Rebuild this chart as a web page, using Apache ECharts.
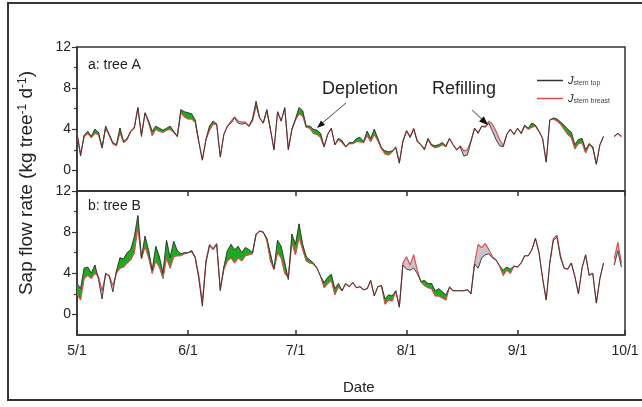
<!DOCTYPE html>
<html>
<head>
<meta charset="utf-8">
<script src="https://cdn.jsdelivr.net/npm/echarts@6/dist/echarts.min.js"></script>
<style>
  html, body { margin: 0; padding: 0; background: #fff; }
  #chart { width: 642px; height: 407px; }
</style>
</head>
<body>
<div id="chart"></div>
<script>
// days counted from 5/1 (index 0)
var monthTicks = [0, 31, 61, 92, 123, 153];
var monthLabels = ['5/1', '6/1', '7/1', '8/1', '9/1', '10/1'];
var yTicks = [0, 4, 8, 12];

// tree A
var topA = [3.6,1.4,3.4,3.8,3.3,4.0,3.7,2.2,4.3,3.5, 2.7,2.5,4.1,2.8,3.1,3.8,4.1,6.1,3.3,5.6,
  4.8,3.8,4.3,4.1,3.9,4.1,4.3,3.8,3.3,5.9, 5.7,5.6,5.5,4.9,2.8,1.0,3.0,4.3,4.8,4.5,
  1.3,3.5,4.3,4.6,5.1,4.6,4.5,4.6,4.3,5.0, 6.7,5.1,4.6,5.9,4.0,2.0,5.7,4.8,6.1,2.0,
  4.0,5.0,6.1,5.8,4.3,4.3,4.0,3.9,3.6,2.3, 3.5,4.1,2.5,3.1,2.9,2.3,2.7,2.7,3.1,3.2,
  2.8,3.8,3.1,4.0,3.1,2.2,1.9,1.8,1.9,2.2, 0.7,2.8,3.8,3.2,4.0,2.8,2.5,2.0,3.1,2.5,
  2.4,2.5,2.7,2.4,3.1,2.5,2.0,2.3,1.4,1.5, 2.8,4.1,3.6,4.3,4.2,4.6,3.8,3.0,2.4,2.3,
  3.5,4.0,3.5,4.1,3.6,4.4,4.1,4.6,4.4,3.8, 3.1,0.8,4.9,5.1,5.0,4.7,4.4,4.0,3.7,2.5,
  3.0,3.1,2.0,2.6,2.3,0.6,2.5,3.3,null,null, 3.3,3.6,3.3];
var breastA = [3.6,1.6,3.3,3.6,3.2,3.6,3.5,2.2,4.1,3.4, 2.6,2.4,3.7,2.7,3.0,3.8,4.2,6.1,3.5,5.6,
  4.6,3.4,4.0,3.8,3.7,3.9,4.0,3.7,3.3,5.6, 5.2,5.0,5.0,4.7,2.8,1.0,3.0,3.9,4.5,4.5,
  1.3,3.5,4.3,4.8,5.2,4.8,4.7,4.7,4.3,4.8, 6.3,5.1,4.6,5.8,4.0,2.0,5.7,4.8,6.1,2.1,
  4.0,4.9,5.5,5.3,4.2,4.1,3.6,3.5,3.2,2.3, 3.5,4.1,2.5,3.0,2.7,2.3,2.6,2.6,2.8,2.8,
  2.7,3.4,2.8,3.5,2.9,2.1,1.6,1.5,1.8,2.3, 0.8,2.9,3.9,3.3,4.1,2.9,2.5,2.1,3.0,2.4,
  2.2,2.3,2.5,2.3,3.1,2.5,2.0,2.4,1.9,2.0, 2.9,4.1,3.7,4.3,4.3,4.8,4.5,3.8,3.0,2.4,
  3.5,4.0,3.5,4.1,3.6,4.3,4.0,4.2,4.3,3.8, 3.1,0.8,4.9,5.0,4.8,4.5,4.0,3.5,3.2,2.1,
  2.6,2.7,1.7,2.5,2.2,0.6,2.5,3.3,null,null, 3.3,3.6,3.3];

// tree B
var topB = [3.0,2.5,4.5,4.6,4.0,4.8,3.4,1.5,4.0,3.7, 2.2,4.2,5.5,5.4,6.0,6.3,7.5,9.6,5.5,7.6,
  6.2,4.3,6.6,5.6,4.0,7.2,5.5,7.1,6.2,5.9, 6.0,6.0,6.2,5.5,3.5,0.8,5.0,6.7,6.3,6.8,
  2.3,4.6,6.2,6.8,6.3,6.6,6.0,6.5,6.3,6.0, 7.8,8.1,8.0,7.4,5.9,4.4,7.2,6.6,5.0,3.4,
  7.8,6.8,8.8,6.8,5.6,5.3,5.0,4.5,3.7,3.1, 3.6,3.9,2.5,3.0,2.3,3.0,2.7,3.1,2.6,2.7,
  2.4,2.5,3.3,1.8,2.7,2.8,1.5,1.9,1.8,2.3, 0.7,4.8,4.4,4.3,4.5,4.0,3.2,3.3,3.0,3.0,
  2.3,2.5,2.2,1.9,2.6,2.3,2.3,2.3,2.3,2.4, 2.0,4.9,4.5,5.5,5.8,5.9,5.5,5.3,4.7,4.3,
  4.6,4.4,4.7,4.6,5.0,5.7,5.7,6.3,7.4,6.0, 3.5,1.4,5.0,7.2,7.5,5.5,4.5,4.4,5.0,3.7,
  2.0,4.5,5.8,3.8,4.0,1.1,3.5,5.0,null,null, 4.8,6.2,4.6];
var breastB = [2.0,1.4,3.5,3.8,3.5,4.0,3.7,2.3,3.9,3.8, 2.8,4.0,4.5,4.6,5.0,5.3,6.0,8.5,5.4,6.6,
  5.5,4.0,5.2,4.6,3.5,5.5,4.5,5.6,5.7,5.7, 5.9,6.0,6.1,5.6,3.8,1.2,5.2,6.8,6.4,6.9,
  2.5,4.4,5.2,5.5,5.0,5.5,5.2,5.7,5.8,5.9, 7.8,8.1,8.0,7.2,5.2,4.4,6.0,5.5,4.0,3.6,
  7.0,5.8,7.5,6.3,5.2,5.0,4.9,4.5,3.7,2.6, 3.0,3.3,1.9,2.7,2.3,3.0,2.7,3.1,2.6,2.7,
  2.4,2.5,3.3,1.8,2.7,2.8,1.0,1.4,1.3,2.3, 0.8,5.0,5.6,4.8,5.8,4.3,3.2,2.8,2.6,2.5,
  1.8,1.8,1.6,1.4,2.7,2.3,2.3,2.3,2.3,2.4, 2.0,5.0,6.8,6.5,6.9,6.3,5.6,5.3,4.7,3.8,
  4.3,4.0,4.7,4.6,5.0,5.7,5.7,6.3,7.4,6.0, 3.5,1.4,5.0,7.4,7.7,5.7,4.5,4.4,5.0,3.7,
  2.0,4.5,5.8,3.8,4.0,1.1,3.5,5.0,null,null, 5.4,7.0,5.0];

var GREEN = '#1fa81f';
var GRAY = '#c9c1c5';

function pairs(arr) {
  return arr.map(function (v, i) { return [i, v]; });
}

// one segment per day pair: [x0, top0, breast0, top1, breast1]
function segments(top, breast) {
  var out = [];
  for (var i = 0; i < top.length - 1; i++) {
    if (top[i] == null || top[i + 1] == null) continue;
    out.push([i, top[i], breast[i], top[i + 1], breast[i + 1]]);
  }
  return out;
}

function poly(api, pts, d) {
  var c = d > 0 ? GREEN : GRAY;
  return {
    type: 'polygon',
    shape: { points: pts.map(function (p) { return api.coord(p); }) },
    style: { fill: c, stroke: c, lineWidth: 0.6 }
  };
}

function renderBand(params, api) {
  var x0 = api.value(0), t0 = api.value(1), b0 = api.value(2);
  var t1 = api.value(3), b1 = api.value(4), x1 = x0 + 1;
  var d0 = t0 - b0, d1 = t1 - b1;
  var kids = [];
  if (d0 * d1 >= 0) {
    var d = d0 !== 0 ? d0 : d1;
    if (d !== 0) kids.push(poly(api, [[x0, t0], [x1, t1], [x1, b1], [x0, b0]], d));
  } else {
    var f = d0 / (d0 - d1);
    var xc = x0 + f, yc = t0 + f * (t1 - t0);
    kids.push(poly(api, [[x0, t0], [xc, yc], [x0, b0]], d0));
    kids.push(poly(api, [[xc, yc], [x1, t1], [x1, b1]], d1));
  }
  return { type: 'group', children: kids };
}

function bandSeries(top, breast, gi) {
  return {
    type: 'custom', xAxisIndex: gi, yAxisIndex: gi * 2, silent: true, z: 1, clip: true,
    data: segments(top, breast), renderItem: renderBand,
    encode: { x: 0, y: [1, 2] }
  };
}

function lineSeries(name, arr, gi, color, w, z) {
  return {
    name: name, type: 'line', xAxisIndex: gi, yAxisIndex: gi * 2,
    data: pairs(arr), symbol: 'none', z: z,
    lineStyle: { color: color, width: w }, itemStyle: { color: color }
  };
}

function yAxes(gi) {
  return [{
    gridIndex: gi, type: 'value', min: -2, max: 12, interval: 2, position: 'left',
    axisLine: { show: true, lineStyle: { color: '#333', width: 1.5 } },
    axisTick: { show: true, inside: false, length: 5, customValues: yTicks, lineStyle: { color: '#333', width: 1.2 } },
    axisLabel: {
      customValues: yTicks, fontSize: 14, color: '#222', margin: 6, fontFamily: 'Liberation Sans',
      formatter: function (v) { return (v >= 0 && v % 4 === 0) ? v : ''; }
    },
    splitLine: { show: false }
  }, {
    gridIndex: gi, type: 'value', min: -2, max: 12, interval: 2, position: 'left',
    axisLine: { show: false },
    axisTick: { show: true, inside: false, length: 3, customValues: [2, 6, 10], lineStyle: { color: '#333', width: 1.2 } },
    axisLabel: { show: false },
    splitLine: { show: false }
  }];
}

function xAxis(gi, pos, labels, ticks) {
  return {
    gridIndex: gi, type: 'value', min: 0, max: 153, position: pos,
    axisLine: { show: true, onZero: false, lineStyle: { color: '#333', width: 1.5 } },
    axisTick: { show: ticks, inside: true, length: 5, customValues: monthTicks, lineStyle: { color: '#333', width: 1.5 } },
    axisLabel: {
      show: labels, customValues: monthTicks, fontSize: 14, color: '#222', margin: 9, fontFamily: 'Liberation Sans',
      formatter: function (v) { return monthLabels[monthTicks.indexOf(v)] || ''; }
    },
    splitLine: { show: false }
  };
}

var series = [
  bandSeries(topA, breastA, 0),
  bandSeries(topB, breastB, 1),
  lineSeries('breast', breastA, 0, '#e2484c', 1.1, 3),
  lineSeries('top', topA, 0, '#333333', 0.9, 4),
  lineSeries('breast', breastB, 1, '#e2484c', 1.1, 3),
  lineSeries('top', topB, 1, '#333333', 0.9, 4)
];

var option = {
  backgroundColor: '#fff',
  animation: false,
  textStyle: { fontFamily: 'Liberation Sans' },
  grid: [
    { left: 77, right: 17, top: 47, height: 144, show: true, borderColor: '#333', borderWidth: 1.5 },
    { left: 77, right: 17, top: 191, height: 144, show: true, borderColor: '#333', borderWidth: 1.5 }
  ],
  xAxis: [
    xAxis(0, 'bottom', false, false),
    xAxis(1, 'bottom', true, true),
    xAxis(1, 'top', false, true)
  ],
  yAxis: yAxes(0).concat(yAxes(1)),
  legend: {
    data: ['top', 'breast'], orient: 'vertical', left: 532, top: 70, itemGap: 6,
    icon: 'rect', itemWidth: 26, itemHeight: 1.5,
    formatter: function (name) {
      return '{j|J}{s|stem ' + name + '}';
    },
    textStyle: {
      rich: {
        j: { fontSize: 11, fontStyle: 'italic', color: '#222', fontFamily: 'Liberation Sans' },
        s: { fontSize: 7, color: '#444', verticalAlign: 'bottom', padding: [6, 0, 0, 0], fontFamily: 'Liberation Sans' }
      }
    }
  },
  graphic: [
    { type: 'rect', shape: { x: 8, y: 3, width: 660, height: 397 }, style: { fill: 'none', stroke: '#333', lineWidth: 2 }, silent: true, z: 100 },
    { type: 'text', left: 88, top: 58, z: 60, style: { text: 'a: tree A', fontSize: 14, fill: '#222', fontFamily: 'Liberation Sans' } },
    { type: 'text', left: 88, top: 199, z: 60, style: { text: 'b: tree B', fontSize: 14, fill: '#222', fontFamily: 'Liberation Sans' } },
    { type: 'text', left: 322, top: 80, z: 60, style: { text: 'Depletion', fontSize: 18, fill: '#222', fontFamily: 'Liberation Sans' } },
    { type: 'text', left: 432, top: 80, z: 60, style: { text: 'Refilling', fontSize: 18, fill: '#222', fontFamily: 'Liberation Sans' } },
    { type: 'line', shape: { x1: 346, y1: 103, x2: 320, y2: 125 }, style: { stroke: '#444', lineWidth: 1 }, z: 50 },
    { type: 'polygon', shape: { points: [[317, 128], [325, 125], [321, 120.5]] }, style: { fill: '#111' }, z: 50 },
    { type: 'line', shape: { x1: 472, y1: 110, x2: 484, y2: 121 }, style: { stroke: '#888', lineWidth: 1.2 }, z: 50 },
    { type: 'polygon', shape: { points: [[488, 125], [479, 121.5], [483.8, 116.3]] }, style: { fill: '#111' }, z: 50 },
    { type: 'text', left: 343, top: 380, style: { text: 'Date', fontSize: 15, fill: '#222', fontFamily: 'Liberation Sans' } },
    {
      type: 'text', x: 27, y: 183, rotation: Math.PI / 2,
      style: {
        text: '{t|Sap flow rate (kg tree}{u|-1}{t| d}{u|-1}{t|)}',
        align: 'center', verticalAlign: 'middle',
        rich: {
          t: { fontSize: 19, fill: '#222', fontFamily: 'Liberation Sans' },
          u: { fontSize: 12, fill: '#222', fontFamily: 'Liberation Sans', verticalAlign: 'top', padding: [0, 0, 8, 0] }
        }
      }
    }
  ],
  series: series
};

var myChart = echarts.init(document.getElementById('chart'));
myChart.setOption(option);
</script>
</body>
</html>
